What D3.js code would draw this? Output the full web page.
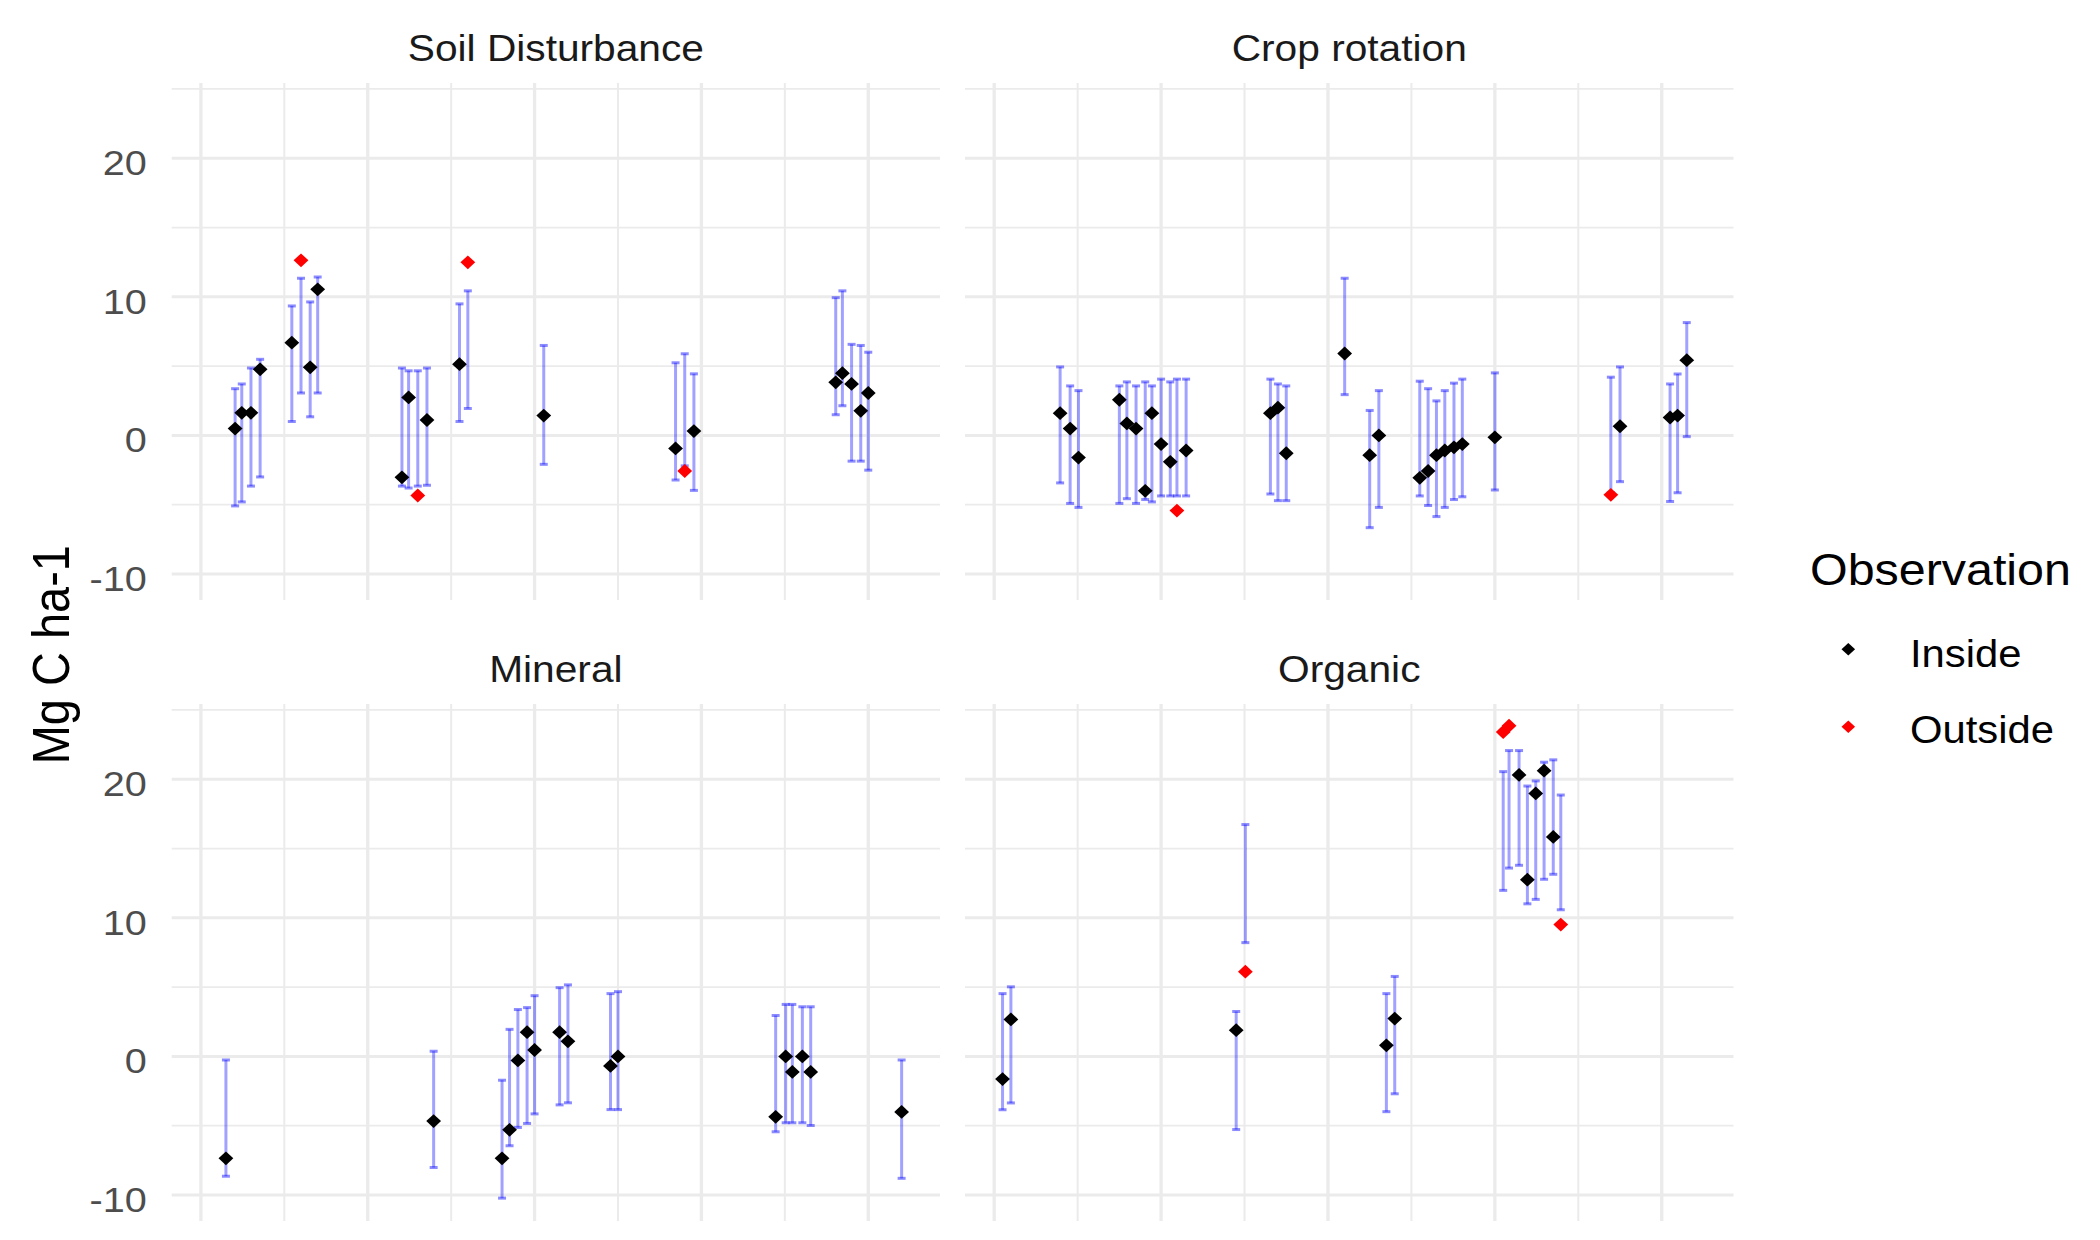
<!DOCTYPE html>
<html>
<head>
<meta charset="utf-8">
<script src="https://cdn.jsdelivr.net/npm/d3@7"></script>
<style>
  html, body { margin: 0; padding: 0; background: #ffffff; }
  svg { display: block; font-family: "Liberation Sans", Arial, sans-serif; }
</style>
</head>
<body>
<svg id="chart" width="2100" height="1240"></svg>
<script>
// ---- Facets, ticks and legend levels ----
const facetNames = ["Soil Disturbance", "Crop rotation", "Mineral", "Organic"];
const yMajorTicks = [-10, 0, 10, 20];
const yMinorTicks = [-5, 5, 15, 25];
const xMajorTicks = [0, 2, 4, 6, 8];
const xMinorTicks = [1, 3, 5, 7];
const statusLevels = ["Inside", "Outside"];
const yTitle = "Mg C ha-1";
const legendTitle = "Observation";

// ---- Soil Disturbance ----
const soilX      = [0.41, 0.49, 0.60, 0.71, 1.09, 1.20, 1.31, 1.40, 2.41, 2.49, 2.60, 2.71, 3.10, 3.20, 4.11, 5.69, 5.80, 5.91, 7.61, 7.69, 7.80, 7.91, 8.00];
const soilObs    = [0.49, 1.63, 1.63, 4.77, 6.69, 12.63, 4.91, 10.54, -3.03, 2.74, -4.34, 1.11, 5.14, 12.49, 1.43, -0.94, -2.57, 0.31, 3.83, 4.49, 3.71, 1.77, 3.06];
const soilLow    = [-5.09, -4.80, -3.66, -3.00, 1.00, 3.06, 1.34, 3.06, -3.66, -3.80, -3.66, -3.60, 1.00, 1.94, -2.09, -3.22, -2.20, -3.97, 1.49, 2.14, -1.86, -1.86, -2.51];
const soilHigh   = [3.37, 3.71, 4.86, 5.49, 9.34, 11.34, 9.63, 11.43, 4.86, 4.66, 4.66, 4.86, 9.49, 10.43, 6.49, 5.24, 5.89, 4.44, 9.94, 10.43, 6.57, 6.49, 6.00];
const soilStatus = ["Inside", "Inside", "Inside", "Inside", "Inside", "Outside", "Inside", "Inside", "Inside", "Inside", "Outside", "Inside", "Inside", "Outside", "Inside", "Inside", "Outside", "Inside", "Inside", "Inside", "Inside", "Inside", "Inside"];

// ---- Crop rotation ----
const cropX      = [0.79, 0.91, 1.01, 1.50, 1.59, 1.70, 1.81, 1.89, 2.00, 2.11, 2.19, 2.30, 3.31, 3.40, 3.50, 4.20, 4.50, 4.61, 5.10, 5.20, 5.30, 5.40, 5.51, 5.61, 6.00, 7.39, 7.50, 8.10, 8.19, 8.30];
const cropObs    = [1.60, 0.49, -1.60, 2.57, 0.86, 0.49, -4.00, 1.60, -0.63, -1.91, -5.43, -1.09, 1.60, 2.00, -1.29, 5.91, -1.43, 0.00, -3.06, -2.57, -1.43, -1.09, -0.86, -0.63, -0.14, -4.29, 0.66, 1.29, 1.43, 5.43];
const cropLow    = [-3.43, -4.91, -5.20, -4.91, -4.57, -4.91, -4.63, -4.80, -4.37, -4.37, -4.37, -4.37, -4.23, -4.71, -4.71, 2.94, -6.66, -5.20, -4.37, -5.06, -5.86, -5.20, -4.63, -4.43, -3.94, -4.14, -3.34, -4.77, -4.14, -0.09];
const cropHigh   = [4.94, 3.57, 3.23, 3.57, 3.86, 3.57, 3.86, 3.57, 4.06, 3.86, 4.06, 4.06, 4.06, 3.71, 3.57, 11.34, 1.80, 3.23, 3.91, 3.37, 2.49, 3.23, 3.77, 4.06, 4.51, 4.20, 4.94, 3.71, 4.43, 8.14];
const cropStatus = ["Inside", "Inside", "Inside", "Inside", "Inside", "Inside", "Inside", "Inside", "Inside", "Inside", "Outside", "Inside", "Inside", "Inside", "Inside", "Inside", "Inside", "Inside", "Inside", "Inside", "Inside", "Inside", "Inside", "Inside", "Inside", "Outside", "Inside", "Inside", "Inside", "Inside"];

// ---- Mineral ----
const mineralX      = [0.30, 2.79, 3.61, 3.70, 3.80, 3.91, 4.00, 4.30, 4.40, 4.91, 5.00, 6.89, 7.01, 7.09, 7.21, 7.31, 8.40];
const mineralObs    = [-7.36, -4.67, -7.36, -5.30, -0.29, 1.75, 0.46, 1.75, 1.09, -0.69, 0.00, -4.36, 0.00, -1.12, 0.00, -1.12, -4.01];
const mineralLow    = [-8.65, -8.02, -10.23, -6.45, -5.13, -4.84, -4.15, -3.50, -3.35, -3.84, -3.84, -5.44, -4.79, -4.79, -4.79, -4.99, -8.80];
const mineralHigh   = [-0.26, 0.37, -1.72, 1.95, 3.38, 3.52, 4.38, 4.96, 5.16, 4.53, 4.67, 2.95, 3.75, 3.75, 3.58, 3.58, -0.26];
const mineralStatus = ["Inside", "Inside", "Inside", "Inside", "Inside", "Inside", "Inside", "Inside", "Inside", "Inside", "Inside", "Inside", "Inside", "Inside", "Inside", "Inside", "Inside"];

// ---- Organic ----
const organicX      = [0.10, 0.20, 2.90, 3.01, 4.70, 4.80, 6.10, 6.17, 6.29, 6.39, 6.49, 6.59, 6.70, 6.79];
const organicObs    = [-1.64, 2.67, 1.89, 6.11, 0.80, 2.73, 23.41, 23.86, 20.31, 12.75, 18.98, 20.62, 15.84, 9.51];
const organicLow    = [-3.85, -3.36, -5.28, 8.21, -3.99, -2.70, 11.98, 13.59, 13.79, 11.01, 11.33, 12.78, 13.14, 10.58];
const organicHigh   = [4.53, 5.02, 3.24, 16.73, 4.53, 5.77, 20.55, 22.07, 22.07, 19.51, 19.88, 21.23, 21.40, 18.86];
const organicStatus = ["Inside", "Inside", "Inside", "Outside", "Inside", "Inside", "Outside", "Outside", "Inside", "Inside", "Inside", "Inside", "Inside", "Outside"];

// ---- Assemble rows per facet ----
function rows(xs, obs, lo, hi, st) {
  return xs.map((x, i) => ({ x, obs: obs[i], lo: lo[i], hi: hi[i], status: st[i] }));
}
const facetData = [
  rows(soilX, soilObs, soilLow, soilHigh, soilStatus),
  rows(cropX, cropObs, cropLow, cropHigh, cropStatus),
  rows(mineralX, mineralObs, mineralLow, mineralHigh, mineralStatus),
  rows(organicX, organicObs, organicLow, organicHigh, organicStatus)
];

// ---- Layout ----
const STRETCH = 1.1;                 // horizontal text aspect
const cols = [{ x0: 171.7, x1: 940 }, { x0: 965, x1: 1733.5 }];
const panelRows = [{ y0: 83, y1: 600 }, { y0: 704, y1: 1221 }];
const xDomain = [-0.35, 8.86];
const yDomain = [-11.88, 25.43];

const color = d3.scaleOrdinal().domain(statusLevels).range(["#000000", "#ff0000"]);
const diamond = (w, h) => `M0,${-h}L${w},0L0,${h}L${-w},0Z`;
const DW = 7.4, DH = 6.9;

const svg = d3.select("#chart");

function stretchedText(parent, x, y, str, o) {
  return parent.append("text")
    .attr("transform", `translate(${x},${y}) scale(${STRETCH},1)` + (o.rotate ? ` rotate(${o.rotate})` : ""))
    .attr("text-anchor", o.anchor || "start")
    .attr("font-size", o.size)
    .attr("fill", o.fill || "#000")
    .text(str);
}

facetData.forEach((data, i) => {
  const c = cols[i % 2], r = panelRows[Math.floor(i / 2)];
  const x = d3.scaleLinear().domain(xDomain).range([c.x0, c.x1]);
  const y = d3.scaleLinear().domain(yDomain).range([r.y1, r.y0]);
  const g = svg.append("g").attr("class", "panel");

  // gridlines
  const grid = g.append("g").attr("stroke", "#ebebeb");
  grid.selectAll(".hminor").data(yMinorTicks).join("line")
    .attr("x1", c.x0).attr("x2", c.x1).attr("y1", d => y(d)).attr("y2", d => y(d))
    .attr("stroke-width", 1.8);
  grid.selectAll(".vminor").data(xMinorTicks).join("line")
    .attr("y1", r.y0).attr("y2", r.y1).attr("x1", d => x(d)).attr("x2", d => x(d))
    .attr("stroke-width", 2);
  grid.selectAll(".hmajor").data(yMajorTicks).join("line")
    .attr("x1", c.x0).attr("x2", c.x1).attr("y1", d => y(d)).attr("y2", d => y(d))
    .attr("stroke-width", 3);
  grid.selectAll(".vmajor").data(xMajorTicks).join("line")
    .attr("y1", r.y0).attr("y2", r.y1).attr("x1", d => x(d)).attr("x2", d => x(d))
    .attr("stroke-width", 3.3);

  // y axis labels on the left column only
  if (i % 2 === 0) {
    const ax = d3.axisLeft(y).tickValues(yMajorTicks).tickSize(0).tickFormat(d => String(d));
    const axG = svg.append("g").attr("transform", `translate(${c.x0},0)`).call(ax);
    axG.select(".domain").remove();
    axG.selectAll(".tick text").each(function () {
      d3.select(this).attr("x", null).attr("dy", null).attr("fill", "#4d4d4d")
        .attr("font-size", 36).attr("font-family", "Liberation Sans, Arial, sans-serif")
        .attr("text-anchor", "end")
        .attr("transform", `translate(${146.7 - c.x0},16.5) scale(${STRETCH},1)`);
    });
  }

  // strip title
  stretchedText(svg, (c.x0 + c.x1) / 2, r.y0 - 22, facetNames[i], { anchor: "middle", size: 37, fill: "#1a1a1a" });

  // error bars
  const bars = g.append("g").attr("stroke", "#0000ff");
  const capW = 4;
  bars.selectAll(".stem").data(data).join("line")
    .attr("x1", d => x(d.x)).attr("x2", d => x(d.x))
    .attr("y1", d => y(d.lo)).attr("y2", d => y(d.hi))
    .attr("stroke-width", 3).attr("stroke-opacity", 0.37);
  ["lo", "hi"].forEach(k => {
    bars.selectAll(".cap-" + k).data(data).join("line")
      .attr("x1", d => x(d.x) - capW).attr("x2", d => x(d.x) + capW)
      .attr("y1", d => y(d[k])).attr("y2", d => y(d[k]))
      .attr("stroke-width", 3).attr("stroke-opacity", 0.45);
  });

  // observations
  g.append("g").selectAll("path").data(data).join("path")
    .attr("d", diamond(DW, DH))
    .attr("transform", d => `translate(${x(d.x)},${y(d.obs)})`)
    .attr("fill", d => color(d.status));
});

// y axis title
stretchedText(svg, 69.3, 654.7, yTitle, { anchor: "middle", size: 47, rotate: -90 });

// legend
const lg = svg.append("g");
stretchedText(lg, 1810, 585, legendTitle, { size: 44 });
const keyY = [649.3, 726.7], labelY = [667, 743];
statusLevels.forEach((s, i) => {
  lg.append("path").attr("d", diamond(6.8, 6.3))
    .attr("transform", `translate(1848.3,${keyY[i]})`)
    .attr("fill", color(s));
  stretchedText(lg, 1910, labelY[i], s, { size: 38 });
});
</script>
</body>
</html>
